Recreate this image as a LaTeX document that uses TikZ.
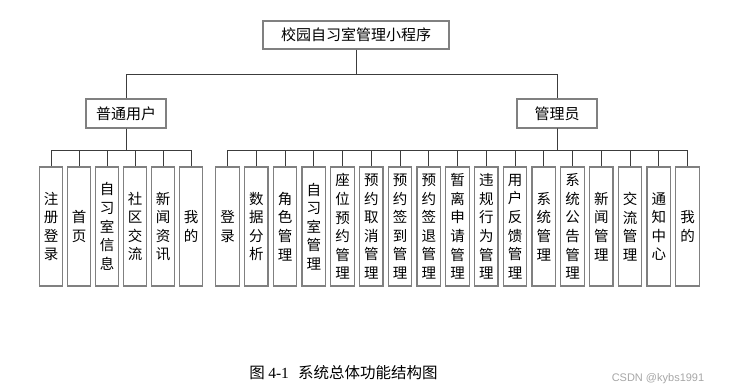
\documentclass[tikz,border=0pt]{standalone}
\usepackage{fontspec}
\setmainfont{Noto Sans CJK SC}
\newfontfamily\numfont{Liberation Serif}
\newfontfamily\markfont{Liberation Sans}
\usepackage{tikz}
\usetikzlibrary{positioning}
\definecolor{BoxGray}{RGB}{128,128,128}
\definecolor{LinkGray}{RGB}{60,60,60}
\begin{document}
\begin{tikzpicture}[x=1pt,y=-1pt,
  box/.style={draw=BoxGray,line width=1.3pt,fill=white,inner sep=0pt,font=\fontsize{15}{17}\selectfont},
  topbox/.style={box,minimum width=186pt,minimum height=28pt},
  midbox/.style={box,minimum width=80pt,minimum height=29pt},
  leafbox/.style={box,minimum width=23.5pt,minimum height=119pt,align=center,font=\fontsize{14.5}{18.6}\selectfont},
  link/.style={draw=LinkGray,line width=1pt}]
\useasboundingbox (0,0) rectangle (737,391);
% top levels
\node[topbox] (root) at (356,35) {校园自习室管理小程序};
\node[midbox] (user) at (126,113.5) {普通用户};
\node[midbox] (admin) at (557,113.5) {管理员};
\draw[link] (root.south) -- ++(0,25) -| (user.north);
\draw[link] (root.south) -- ++(0,25) -| (admin.north);
% ordinary user functions
\foreach \i/\t in {1/{注\\册\\登\\录},2/{首\\页},3/{自\\习\\室\\信\\息},4/{社\\区\\交\\流},5/{新\\闻\\资\\讯},6/{我\\的}}{
  \node[leafbox] (u\i) at ({51+28*(\i-1)},226.5) {\t};
  \draw[link] (user.south) -- ++(0,21.5) -| (u\i.north);
}
% administrator functions
\foreach \i/\t in {1/{登\\录},2/{数\\据\\分\\析},3/{角\\色\\管\\理},4/{自\\习\\室\\管\\理},5/{座\\位\\预\\约\\管\\理},
  6/{预\\约\\取\\消\\管\\理},7/{预\\约\\签\\到\\管\\理},8/{预\\约\\签\\退\\管\\理},9/{暂\\离\\申\\请\\管\\理},
  10/{违\\规\\行\\为\\管\\理},11/{用\\户\\反\\馈\\管\\理},12/{系\\统\\管\\理},13/{系\\统\\公\\告\\管\\理},
  14/{新\\闻\\管\\理},15/{交\\流\\管\\理},16/{通\\知\\中\\心},17/{我\\的}}{
  \node[leafbox] (a\i) at ({227.5+28.75*(\i-1)},226.5) {\t};
  \draw[link] (admin.south) -- ++(0,21.5) -| (a\i.north);
}
% caption and mark
\node[font=\fontsize{15.5}{18}\selectfont] (cap) at (343.5,373) {图 {\numfont 4-1}\hspace{0.6em}系统总体功能结构图};
\node[font=\markfont\fontsize{11}{13}\selectfont,text=black!35] (mark) at (658,379) {CSDN @kybs1991};
\end{tikzpicture}
\end{document}
